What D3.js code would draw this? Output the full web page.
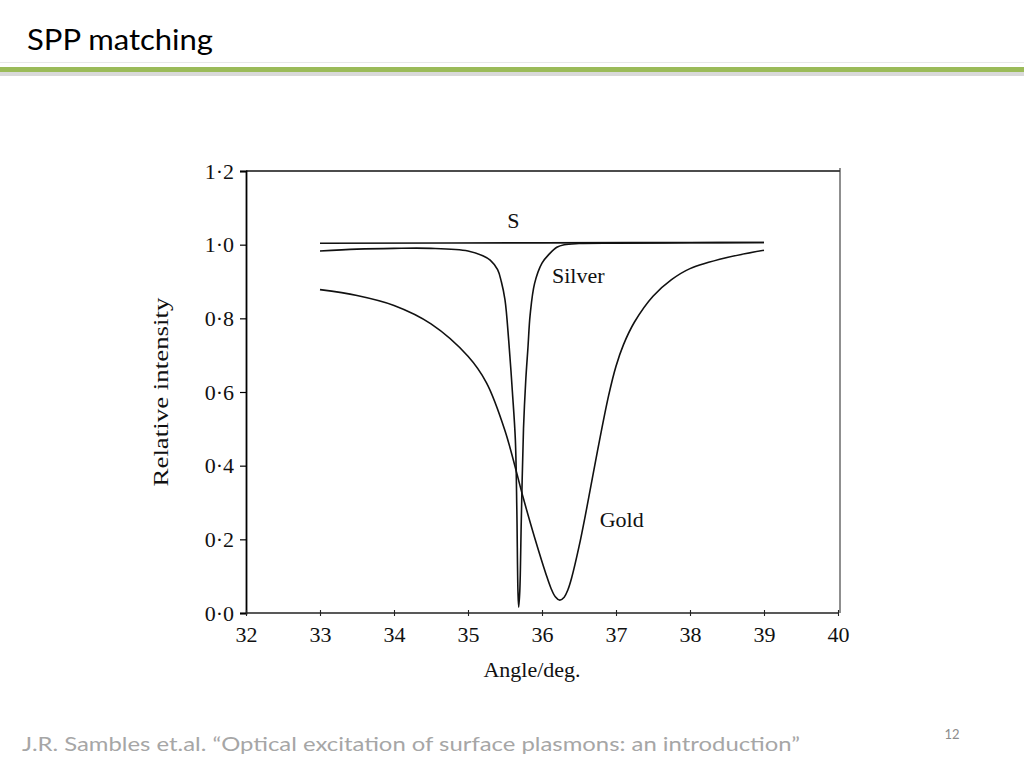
<!DOCTYPE html>
<html>
<head>
<meta charset="utf-8">
<script src="https://cdn.jsdelivr.net/npm/d3@7"></script>
<style>
  html, body { margin: 0; padding: 0; background: #fff; }
  svg { display: block; }
</style>
</head>
<body>
<svg id="chart" width="1024" height="768"></svg>
<script>
// ---- Data ----
const title = "SPP matching";
const footer = "J.R. Sambles et.al. \u201COptical excitation of surface plasmons: an introduction\u201D";
const pageNumber = "12";

const xTicks = [32, 33, 34, 35, 36, 37, 38, 39, 40];
const yTicks = [0.0, 0.2, 0.4, 0.6, 0.8, 1.0, 1.2];
const yTickLabels = ["0·0", "0·2", "0·4", "0·6", "0·8", "1·0", "1·2"];

const sAngles = [33.0, 36.0, 39.0];
const sValues = [1.004, 1.005, 1.006];

const silverAngles = [33.0, 33.5, 34.0, 34.5, 35.0, 35.2, 35.3, 35.4, 35.45, 35.5, 35.55, 35.6, 35.64, 35.66, 35.675, 35.685, 35.70, 35.72, 35.75, 35.78, 35.81, 35.84, 35.9, 36.0, 36.1, 36.2, 36.3, 36.5, 37.0, 38.0, 39.0];
const silverValues = [0.983, 0.988, 0.990, 0.990, 0.983, 0.970, 0.958, 0.932, 0.900, 0.850, 0.740, 0.600, 0.470, 0.280, 0.060, 0.016, 0.060, 0.250, 0.500, 0.630, 0.720, 0.810, 0.895, 0.950, 0.975, 0.993, 1.000, 1.003, 1.004, 1.005, 1.006];

const goldAngles = [33.0, 33.5, 34.0, 34.5, 35.0, 35.25, 35.5, 35.75, 35.9, 36.05, 36.12, 36.18, 36.24, 36.3, 36.35, 36.4, 36.5, 36.6, 36.75, 36.9, 37.0, 37.1, 37.25, 37.5, 37.75, 38.0, 38.5, 39.0];
const goldValues = [0.878, 0.862, 0.835, 0.785, 0.697, 0.625, 0.495, 0.310, 0.205, 0.108, 0.068, 0.044, 0.035, 0.043, 0.063, 0.095, 0.180, 0.280, 0.440, 0.590, 0.670, 0.728, 0.790, 0.860, 0.905, 0.935, 0.965, 0.985];

const curveLabels = ["S", "Silver", "Gold"];
const xLabel = "Angle/deg.";
const yLabel = "Relative intensity";

// ---- Drawing ----
const svg = d3.select("#chart");
const serif = "'Liberation Serif', 'DejaVu Serif', serif";
const sans = "Lato, 'Open Sans', 'Noto Sans', sans-serif";

// Slide header
svg.append("text")
  .attr("x", 27).attr("y", 50)
  .attr("font-family", sans).attr("font-size", 28)
  .attr("textLength", 186).attr("lengthAdjust", "spacingAndGlyphs")
  .attr("fill", "#000").text(title);
svg.append("rect").attr("x", 0).attr("y", 62).attr("width", 1024).attr("height", 1).attr("fill", "#e8e8e8");
svg.append("rect").attr("x", 0).attr("y", 72).attr("width", 1024).attr("height", 4).attr("fill", "#d9d9d9");
svg.append("rect").attr("x", 0).attr("y", 67).attr("width", 1024).attr("height", 5).attr("fill", "#9bbb59");

// Footer
svg.append("text")
  .attr("x", 22).attr("y", 751)
  .attr("font-family", sans).attr("font-size", 20)
  .attr("textLength", 778).attr("lengthAdjust", "spacingAndGlyphs")
  .attr("fill", "#a6a6a6").text(footer);
svg.append("text")
  .attr("x", 952).attr("y", 739).attr("text-anchor", "middle")
  .attr("font-family", sans).attr("font-size", 13)
  .attr("fill", "#8c8c8c").text(pageNumber);

// Scales
const x = d3.scaleLinear().domain([32, 40]).range([246, 838]);
const y = d3.scaleLinear().domain([0, 1.2]).range([613, 171]);

const g = svg.append("g");

// Frame (top and right border)
g.append("line").attr("x1", x(32)).attr("x2", 840).attr("y1", y(1.2)).attr("y2", y(1.2))
  .attr("stroke", "#111").attr("stroke-width", 1.4);
g.append("line").attr("x1", 840).attr("x2", 840).attr("y1", y(1.2) - 3).attr("y2", y(0))
  .attr("stroke", "#333").attr("stroke-width", 1.1);

// Y axis
const yAxis = d3.axisLeft(y).tickValues(yTicks).tickSize(6).tickPadding(6)
  .tickFormat((d, i) => yTickLabels[i]);
const gy = g.append("g").attr("transform", `translate(${x(32)},0)`).call(yAxis);
gy.select(".domain").attr("stroke", "#000").attr("stroke-width", 1.8);
gy.selectAll(".tick line").attr("stroke", "#000").attr("stroke-width", 1.2);
gy.selectAll(".tick text").attr("font-family", serif).attr("font-size", 22).attr("fill", "#111");

// X axis
const xAxis = d3.axisBottom(x).tickValues(xTicks).tickSize(5).tickPadding(8)
  .tickFormat(d3.format("d"));
const gx = g.append("g").attr("transform", `translate(0,${y(0)})`).call(xAxis);
gx.select(".domain").attr("stroke", "#222").attr("stroke-width", 1.3).attr("d", `M${x(32)},0H${x(40)}`);
gx.selectAll(".tick line").attr("stroke", "#222").attr("stroke-width", 1.1).attr("y1", -3).attr("y2", 3);
gx.selectAll(".tick text").attr("font-family", serif).attr("font-size", 22).attr("fill", "#111");

// Axis titles
g.append("text")
  .attr("x", 532).attr("y", 677).attr("text-anchor", "middle")
  .attr("font-family", serif).attr("font-size", 22).attr("fill", "#111").text(xLabel);
g.append("text")
  .attr("transform", "translate(168,392) rotate(-90)").attr("text-anchor", "middle")
  .attr("font-family", serif).attr("font-size", 22)
  .attr("textLength", 189).attr("lengthAdjust", "spacingAndGlyphs")
  .attr("fill", "#111").text(yLabel);

// Curves
const line = d3.line().x(d => x(d[0])).y(d => y(d[1])).curve(d3.curveCatmullRom.alpha(0.5));
const series = [
  d3.zip(sAngles, sValues),
  d3.zip(silverAngles, silverValues),
  d3.zip(goldAngles, goldValues)
];
g.selectAll("path.curve").data(series).join("path")
  .attr("class", "curve")
  .attr("d", line)
  .attr("fill", "none").attr("stroke", "#111").attr("stroke-width", 1.6)
  .attr("stroke-linejoin", "round");

// Curve labels
const labelPos = [[35.53, 1.045], [36.135, 0.896], [36.78, 0.233]];
g.selectAll("text.clabel").data(curveLabels).join("text")
  .attr("class", "clabel")
  .attr("x", (d, i) => x(labelPos[i][0]))
  .attr("y", (d, i) => y(labelPos[i][1]))
  .attr("text-anchor", "start")
  .attr("font-family", serif).attr("font-size", 22).attr("fill", "#111")
  .text(d => d);
</script>
</body>
</html>
